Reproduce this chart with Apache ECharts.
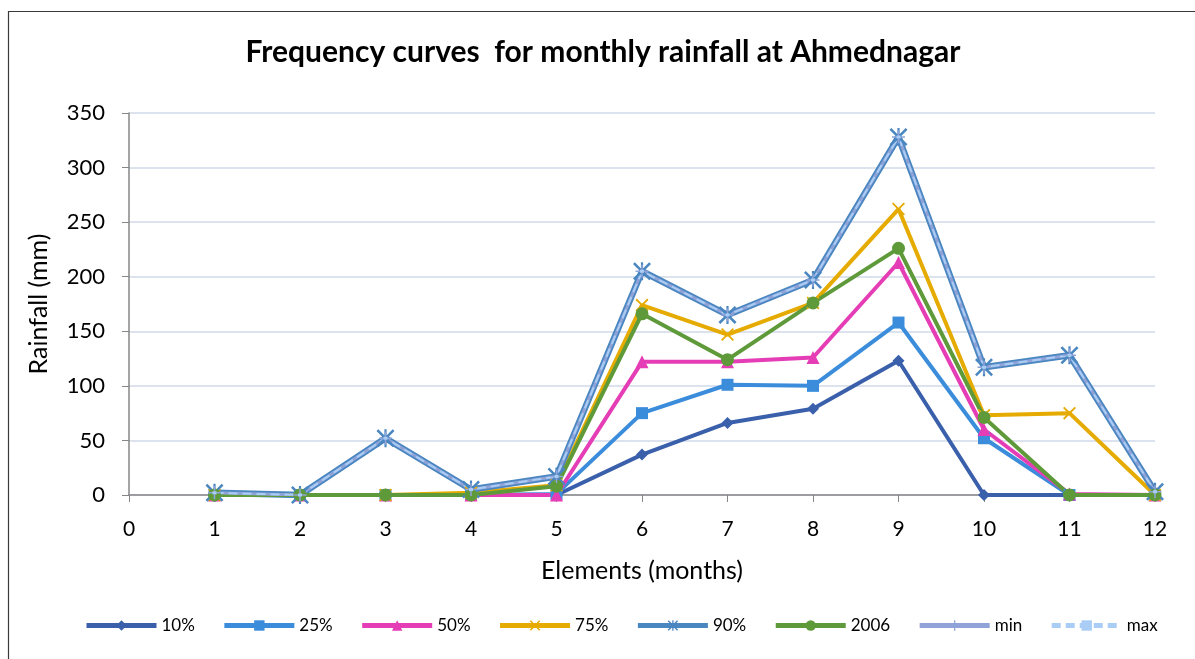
<!DOCTYPE html>
<html>
<head>
<meta charset="utf-8">
<style>
  html, body { margin: 0; padding: 0; background: #ffffff; }
  #chart { width: 1195px; height: 659px; }
</style>
<script src="https://cdn.jsdelivr.net/npm/echarts@6/dist/echarts.min.js"></script>
</head>
<body>
<div id="chart"></div>
<script>
// Months on the x axis (0 is only an axis tick)
const months = [1, 2, 3, 4, 5, 6, 7, 8, 9, 10, 11, 12];

// Monthly rainfall (mm) for each frequency level
const p10  = [0, 0, 0, 0, 0, 37, 66, 79, 123, 0, 0, 0];
const p25  = [0, 0, 0, 0, 1, 75, 101, 100, 158, 52, 0, 0];
const p50  = [0, 0, 0, 0, 0, 122, 122, 126, 213, 60, 1, 0];
const p75  = [0, 0, 0, 2, 9, 174, 147, 176, 262, 73, 75, 0];
const p90  = [2, 0, 52, 5, 17, 205, 165, 197, 328, 117, 128, 3];
const y2006 = [0, 0, 0, 0, 8, 166, 124, 176, 226, 71, 0, 0];
const minV = [2, 0, 52, 5, 17, 205, 165, 197, 328, 117, 128, 3];
const maxV = [2, 0, 52, 5, 17, 205, 165, 197, 328, 117, 128, 3];

const yTicks = [0, 50, 100, 150, 200, 250, 300, 350];

const FONT = 'Lato, "Liberation Sans", sans-serif';

const SYM_X = 'path://M0,1L1,0L5,4L9,0L10,1L6,5L10,9L9,10L5,6L1,10L0,9L4,5Z';
const SYM_STAR = 'path://M0,1L1,0L5,4L9,0L10,1L6,5L10,9L9,10L5,6L1,10L0,9L4,5Z M4.4,0L5.6,0L5.6,10L4.4,10Z';
const SYM_PLUS = 'path://M4.4,0L5.6,0L5.6,4.4L10,4.4L10,5.6L5.6,5.6L5.6,10L4.4,10L4.4,5.6L0,5.6L0,4.4L4.4,4.4Z';
const SYM_DASH = 'path://M0,0L10,0L10,10L0,10Z';

function pairs(vals) {
  return months.map((m, i) => [m, vals[i]]);
}

function lineSeries(name, vals, color, symbol, size, width, extra) {
  return Object.assign({
    name: name,
    type: 'line',
    data: pairs(vals),
    symbol: symbol,
    symbolSize: size,
    showSymbol: true,
    lineStyle: { color: color, width: width },
    itemStyle: { color: color },
    emphasis: { disabled: true },
    animation: false
  }, extra || {});
}

const chart = echarts.init(document.getElementById('chart'), null, { renderer: 'canvas' });

chart.setOption({
  backgroundColor: '#ffffff',
  textStyle: { fontFamily: FONT },
  graphic: [
    {
      type: 'rect',
      shape: { x: 8.5, y: 11.5, width: 1400, height: 900 },
      style: { fill: 'none', stroke: '#3a3a3a', lineWidth: 1.2 },
      silent: true,
      z: -1
    },
    {
      type: 'text',
      x: 603,
      y: 52,
      style: {
        text: 'Frequency curves  for monthly rainfall at Ahmednagar',
        font: 'bold 30px ' + FONT,
        fill: '#000000',
        align: 'center',
        verticalAlign: 'middle'
      }
    }
  ],
  grid: { left: 129, right: 40, top: 113, bottom: 164, containLabel: false },
  legend: {
    top: 612,
    left: 79,
    width: 1110,
    itemWidth: 70,
    itemHeight: 13,
    itemGap: 27,
    lineStyle: { width: 5 },
    textStyle: { fontSize: 17, color: '#000000', fontFamily: FONT },
    data: ['10%', '25%', '50%', '75%', '90%', '2006', 'min', 'max']
  },
  xAxis: {
    type: 'value',
    min: 0,
    max: 12,
    interval: 1,
    name: 'Elements (months)',
    nameLocation: 'middle',
    nameGap: 63,
    nameTextStyle: { fontSize: 25, color: '#000000', fontFamily: FONT },
    axisLine: { onZero: true, lineStyle: { color: '#868686', width: 1.5 } },
    axisTick: { show: true, inside: false, length: 7, lineStyle: { color: '#868686' } },
    axisLabel: { fontSize: 21, color: '#000000', margin: 24, fontFamily: FONT },
    splitLine: { show: false }
  },
  yAxis: {
    type: 'value',
    min: 0,
    max: 350,
    interval: 50,
    name: 'Rainfall (mm)',
    nameLocation: 'middle',
    nameGap: 78,
    nameRotate: 90,
    nameTextStyle: { fontSize: 25, color: '#000000', fontFamily: FONT },
    axisLine: { show: true, lineStyle: { color: '#868686', width: 1.5 } },
    axisTick: { show: true, length: 7, lineStyle: { color: '#868686' } },
    axisLabel: {
      fontSize: 22,
      color: '#000000',
      margin: 24,
      fontFamily: FONT,
      formatter: v => (yTicks.indexOf(v) >= 0 ? String(v) : '')
    },
    splitLine: { show: true, lineStyle: { color: '#dde3ee', width: 2 } }
  },
  series: [
    lineSeries('10%', p10, '#3a5fab', 'diamond', 12, 4),
    lineSeries('25%', p25, '#3b8ddc', 'rect', 12, 4),
    lineSeries('50%', p50, '#e53db5', 'triangle', 13, 4),
    lineSeries('75%', p75, '#e6ab00', SYM_X, 13, 4),
    lineSeries('90%', p90, '#4a86c0', SYM_STAR, 18, 6.5),
    lineSeries('2006', y2006, '#5f9a3a', 'circle', 13, 4),
    lineSeries('min', minV, '#8fa3d8', SYM_PLUS, 13, 3),
    lineSeries('max', maxV, '#a9cdf5', SYM_DASH, [4, 3], 2, {
      lineStyle: { color: '#a9cdf5', width: 2, type: [9, 5] }
    })
  ]
});
</script>
</body>
</html>
